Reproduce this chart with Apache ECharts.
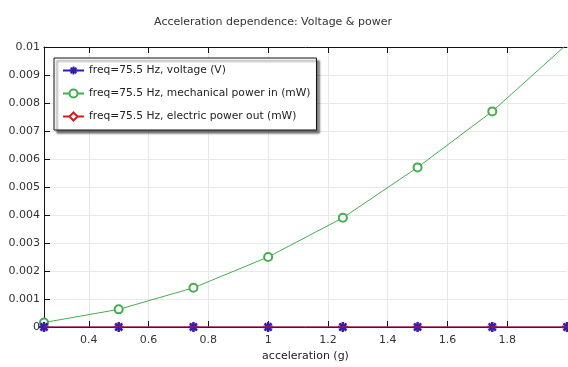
<!DOCTYPE html>
<html><head><meta charset="utf-8">
<script src="https://cdn.jsdelivr.net/npm/echarts@6/dist/echarts.min.js"></script>
<style>html,body{margin:0;padding:0;background:#fff}#c{width:568px;height:367px}</style>
</head><body><div id="c"></div>
<script>
const accel = [0.25, 0.5, 0.75, 1, 1.25, 1.5, 1.75, 2];
const voltage = [0, 0, 0, 0, 0, 0, 0, 0];
const mechPower = [0.00016, 0.00063, 0.0014, 0.0025, 0.0039, 0.0057, 0.0077, 0.0101];
const elecPower = [0, 0, 0, 0, 0, 0, 0, 0];
const xTicks = [0.4, 0.6, 0.8, 1, 1.2, 1.4, 1.6, 1.8];
const yTickLabels = ['0', '0.001', '0.002', '0.003', '0.004', '0.005', '0.006', '0.007', '0.008', '0.009', '0.01'];
const names = ['freq=75.5 Hz, voltage (V)', 'freq=75.5 Hz, mechanical power in (mW)', 'freq=75.5 Hz, electric power out (mW)'];

const star = 'path://M-1.5,-6L1.5,-6L1.5,6L-1.5,6Z M-6,-1.5L6,-1.5L6,1.5L-6,1.5Z M-5.3,-3.2L-3.2,-5.3L5.3,3.2L3.2,5.3Z M3.2,-5.3L5.3,-3.2L-3.2,5.3L-5.3,3.2Z';
const pair = arr => accel.map((a, i) => [a, arr[i]]);
const font = 'DejaVu Sans';
const chart = echarts.init(document.getElementById('c'));
chart.setOption({
  animation: false,
  textStyle: {fontFamily: font},
  title: {text: 'Acceleration dependence: Voltage & power', left: 268, top: 12, textAlign: 'center',
    textStyle: {fontSize: 11, fontWeight: 'normal', color: '#333', fontFamily: font}},
  grid: {left: 44, right: 1, top: 47, bottom: 40},
  legend: {
    orient: 'vertical', left: 54, top: 58,
    backgroundColor: '#fff', borderColor: '#111', borderWidth: 1,
    shadowColor: 'rgba(0,0,0,0.55)', shadowBlur: 2, shadowOffsetX: 3, shadowOffsetY: 3,
    padding: [7, 6, 8, 8], itemGap: 12, itemWidth: 21, itemHeight: 10,
    textStyle: {fontSize: 10.7, color: '#222', fontFamily: font},
    data: names
  },
  xAxis: [{
    type: 'value', min: 0.25, max: 2, position: 'bottom',
    name: 'acceleration (g)', nameLocation: 'middle', nameGap: 24,
    nameTextStyle: {fontSize: 11, color: '#222'},
    axisLine: {lineStyle: {color: '#111', width: 1}},
    axisTick: {inside: true, length: 6, lineStyle: {color: '#111'}, customValues: xTicks},
    axisLabel: {fontSize: 11, color: '#333', customValues: xTicks, margin: 8, formatter: v => String(v)},
    splitLine: {show: true, lineStyle: {color: '#e8e8e8'}}
  }, {
    type: 'value', min: 0.25, max: 2, position: 'top',
    axisLine: {show: true, lineStyle: {color: '#111'}},
    axisTick: {inside: true, length: 6, lineStyle: {color: '#111'}, customValues: xTicks},
    axisLabel: {show: false, customValues: xTicks},
    splitLine: {show: false}
  }],
  yAxis: {
    type: 'value', min: 0, max: 0.01, interval: 0.001,
    axisLine: {show: true, lineStyle: {color: '#111'}},
    axisTick: {show: true, inside: true, length: 6, lineStyle: {color: '#111'}},
    axisLabel: {fontSize: 11, color: '#333', margin: 4,
      formatter: v => yTickLabels[Math.round(v / 0.001)]},
    splitLine: {show: true, lineStyle: {color: '#e8e8e8'}}
  },
  series: [
    {name: names[0], type: 'line', data: pair(voltage), symbol: star, symbolSize: 10,
      itemStyle: {color: '#3a1ca8'}, lineStyle: {color: '#2a20b0', width: 1}, z: 4,
      emphasis: {disabled: true}},
    {name: names[1], type: 'line', data: pair(mechPower), symbol: 'emptyCircle', symbolSize: 8,
      itemStyle: {color: '#45ad4f', borderWidth: 1}, lineStyle: {color: '#45ad4f', width: 1}, z: 3},
    {name: names[2], type: 'line', data: pair(elecPower), symbol: 'emptyDiamond', symbolSize: 8,
      showSymbol: false,
      itemStyle: {color: '#d02020', borderWidth: 1}, lineStyle: {color: '#d02020', width: 1}, z: 5}
  ]
});
</script></body></html>
